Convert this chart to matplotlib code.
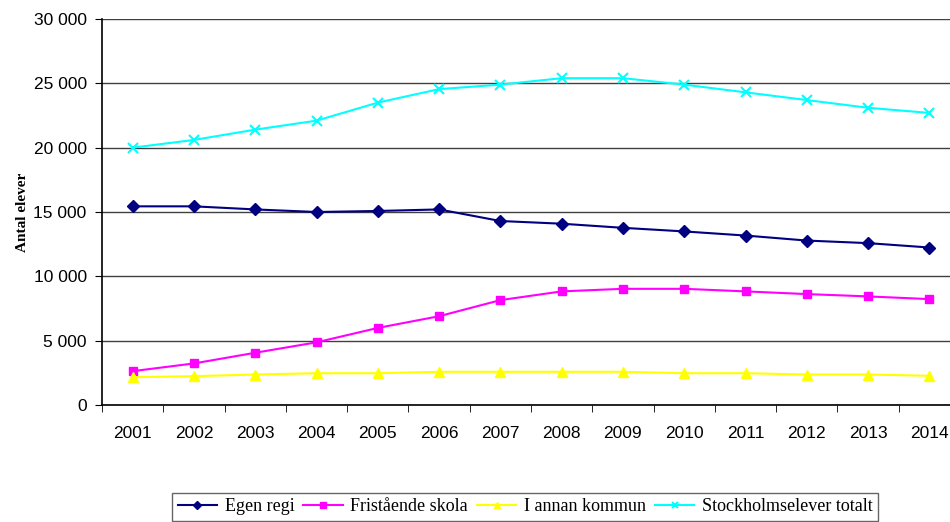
import matplotlib.pyplot as plt
from matplotlib.ticker import FuncFormatter

years = ['2001', '2002', '2003', '2004', '2005', '2006', '2007',
         '2008', '2009', '2010', '2011', '2012', '2013', '2014']
egen_regi = [15440, 15440, 15200, 15000, 15080, 15200, 14300,
             14090, 13770, 13490, 13170, 12780, 12580, 12240]
fristaende = [2630, 3230, 4060, 4870, 5990, 6900, 8150,
              8830, 9030, 9030, 8830, 8620, 8440, 8230]
annan_kommun = [2160, 2240, 2370, 2470, 2470, 2580, 2580,
                2580, 2580, 2470, 2470, 2370, 2370, 2270]
totalt = [20000, 20600, 21400, 22100, 23500, 24550, 24900,
          25400, 25400, 24900, 24300, 23700, 23100, 22700]

fig = plt.figure(figsize=(9.5, 5.22), dpi=100)
ax = fig.add_axes([102/950, 117/522, 858/950, 386/522])

x = list(range(len(years)))
ax.plot(x, egen_regi, color='#000080', marker='D', markersize=6, lw=1.5, label='Egen regi')
ax.plot(x, fristaende, color='#FF00FF', marker='s', markersize=6, lw=1.5, label='Fristående skola')
ax.plot(x, annan_kommun, color='#FFFF00', marker='^', markersize=7, lw=1.5, label='I annan kommun')
ax.plot(x, totalt, color='#00FFFF', marker='x', markersize=7, mew=1.5, lw=1.5, label='Stockholmselever totalt')

ax.set_xlim(-0.5, len(years) - 0.5)
ax.set_ylim(0, 30000)
ax.set_yticks(range(0, 30001, 5000))
ax.yaxis.set_major_formatter(FuncFormatter(lambda v, p: f'{int(v):,}'.replace(',', ' ')))
ax.set_xticks(x)
ax.set_xticklabels(years)
ax.set_xticks([i - 0.5 for i in range(len(years) + 1)], minor=True)
ax.tick_params(axis='x', which='major', length=0, pad=15)
ax.tick_params(axis='x', which='minor', length=5, direction='out')
ax.tick_params(axis='y', length=5, direction='out', pad=6)
for lbl in ax.get_xticklabels() + ax.get_yticklabels():
    lbl.set_family('Liberation Sans')
    lbl.set_fontsize(12.5)

ax.grid(axis='y', color='#404040', lw=1)
ax.set_axisbelow(True)
ax.spines['top'].set_visible(False)
ax.spines['right'].set_visible(False)
ax.spines['left'].set_linewidth(1.2)
ax.spines['bottom'].set_linewidth(1.2)

ax.set_ylabel('Antal elever', family='Liberation Serif', fontweight='bold', fontsize=11, labelpad=3)

leg = fig.legend(loc='upper center', bbox_to_anchor=(525/950, 1 - 493/522), ncol=4,
                 prop={'family': 'Liberation Serif', 'size': 13}, frameon=True,
                 fancybox=False, edgecolor='#404040', handlelength=2.2, columnspacing=0.5,
                 handletextpad=0.4, borderpad=0.3, borderaxespad=0, markerscale=0.7)
leg.get_frame().set_linewidth(1)

fig.savefig('out.png', dpi=100)
